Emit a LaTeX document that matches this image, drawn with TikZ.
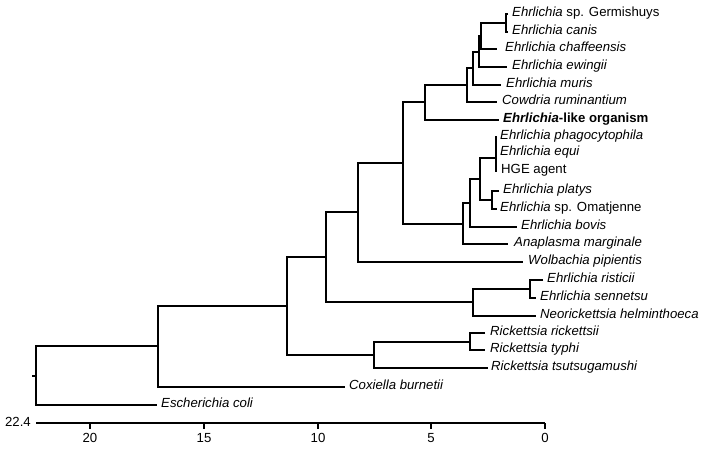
\documentclass[tikz,border=0pt]{standalone}
\usepackage{fontspec}
\setmainfont{Liberation Sans}
\begin{document}
\begin{tikzpicture}[x=1pt,y=-1pt,
  br/.style={line width=2pt, line join=miter},
  lab/.style={anchor=mid west, inner sep=0pt, font=\fontsize{13.2}{15}\selectfont},
  ticklab/.style={inner sep=0pt, font=\fontsize{13.2}{15}\selectfont}]
\useasboundingbox (0,0) rectangle (706,451);
% leaf tips
\coordinate (tG) at (508,14);
\coordinate (tCa) at (508,32);
\coordinate (tCh) at (497,49);
\coordinate (tEw) at (507,67);
\coordinate (tMu) at (501,85);
\coordinate (tCo) at (497,102);
\coordinate (tEl) at (499,120);
\coordinate (tPh) at (497,137);
\coordinate (tEq) at (497,153);
\coordinate (tHG) at (497,171);
\coordinate (tPl) at (499,191);
\coordinate (tOm) at (497,209);
\coordinate (tBo) at (517,227);
\coordinate (tAn) at (508,244);
\coordinate (tWo) at (523,262);
\coordinate (tRi) at (543,280);
\coordinate (tSe) at (536,298);
\coordinate (tNe) at (536,316);
\coordinate (tRr) at (485,333);
\coordinate (tTy) at (485,350);
\coordinate (tTs) at (488,368);
\coordinate (tCx) at (345,387);
\coordinate (tEc) at (157,405);
% internal nodes
\coordinate (n1) at (506,23);
\coordinate (n2) at (481,36);
\coordinate (n3) at (479,52);
\coordinate (n4) at (473,68);
\coordinate (n5) at (467,85);
\coordinate (n6) at (425,102);
\coordinate (n7a) at (496,145);
\coordinate (n7) at (496,158);
\coordinate (n8) at (492,200);
\coordinate (n9) at (480,179);
\coordinate (n10) at (470,203);
\coordinate (n11) at (463,224);
\coordinate (n12) at (403,163);
\coordinate (n13) at (358,212);
\coordinate (n14) at (530,289);
\coordinate (n15) at (473,302);
\coordinate (n16) at (326,257);
\coordinate (n17) at (470,342);
\coordinate (n18) at (374,355);
\coordinate (n19) at (287,306);
\coordinate (n20) at (158,346);
\coordinate (root) at (36,376);
\coordinate (stub) at (32,376);
% branches
\draw[br] (tG) -| (n1) |- (tCa);
\draw[br] (n1) -| (n2) |- (tCh);
\draw[br] (n2) -| (n3) |- (tEw);
\draw[br] (n3) -| (n4) |- (tMu);
\draw[br] (n4) -| (n5) |- (tCo);
\draw[br] (n5) -| (n6) |- (tEl);
\draw[br] (tPh) -| (n7a) |- (tEq);
\draw[br] (n7a) -| (n7) |- (tHG);
\draw[br] (tPl) -| (n8) |- (tOm);
\draw[br] (n7) -| (n9) |- (n8);
\draw[br] (n9) -| (n10) |- (tBo);
\draw[br] (n10) -| (n11) |- (tAn);
\draw[br] (n6) -| (n12) |- (n11);
\draw[br] (n12) -| (n13) |- (tWo);
\draw[br] (tRi) -| (n14) |- (tSe);
\draw[br] (n14) -| (n15) |- (tNe);
\draw[br] (n13) -| (n16) |- (n15);
\draw[br] (tRr) -| (n17) |- (tTy);
\draw[br] (n17) -| (n18) |- (tTs);
\draw[br] (n16) -| (n19) |- (n18);
\draw[br] (n19) -| (n20) |- (tCx);
\draw[br] (n20) -| (root) |- (tEc);
\draw[br] (stub) -- (root);
% labels
\node[lab] (lG) at (512,14) {\textit{Ehrlichia} sp. Germishuys};
\node[lab] (lCa) at (512,32) {\textit{Ehrlichia canis}};
\node[lab] (lCh) at (505,49) {\textit{Ehrlichia chaffeensis}};
\node[lab] (lEw) at (512,67) {\textit{Ehrlichia ewingii}};
\node[lab] (lMu) at (506,85) {\textit{Ehrlichia muris}};
\node[lab] (lCo) at (502,102) {\textit{Cowdria ruminantium}};
\node[lab] (lEl) at (503,120) {\textbf{\textit{Ehrlichia}-like organism}};
\node[lab] (lPh) at (500,137) {\textit{Ehrlichia phagocytophila}};
\node[lab] (lEq) at (500,153) {\textit{Ehrlichia equi}};
\node[lab] (lHG) at (501,171) {HGE agent};
\node[lab] (lPl) at (503,191) {\textit{Ehrlichia platys}};
\node[lab] (lOm) at (500,209) {\textit{Ehrlichia} sp. Omatjenne};
\node[lab] (lBo) at (521,227) {\textit{Ehrlichia bovis}};
\node[lab] (lAn) at (514,244) {\textit{Anaplasma marginale}};
\node[lab] (lWo) at (528,262) {\textit{Wolbachia pipientis}};
\node[lab] (lRi) at (547,280) {\textit{Ehrlichia risticii}};
\node[lab] (lSe) at (540,298) {\textit{Ehrlichia sennetsu}};
\node[lab] (lNe) at (540,316) {\textit{Neorickettsia helminthoeca}};
\node[lab] (lRr) at (490,333) {\textit{Rickettsia rickettsii}};
\node[lab] (lTy) at (490,350) {\textit{Rickettsia typhi}};
\node[lab] (lTs) at (491,368) {\textit{Rickettsia tsutsugamushi}};
\node[lab] (lCx) at (349,387) {\textit{Coxiella burnetii}};
\node[lab] (lEc) at (161,405) {\textit{Escherichia coli}};
% axis
\coordinate (ax0) at (36,423);
\coordinate (ax1) at (545,423);
\draw[br] (ax0) -- (ax1);
\foreach \v/\xx/\nm in {0/545/a,5/431/b,10/318/c,15/204/d,20/90/e} {
  \coordinate (tk\nm) at (\xx,423);
  \coordinate (tkb\nm) at (\xx,429);
  \draw[br] (tk\nm) -- (tkb\nm);
  \node[ticklab] (tl\nm) at (\xx,438) {\v};
}
\node[ticklab, anchor=east] (l224) at (31,422) {22.4};
\end{tikzpicture}
\end{document}
